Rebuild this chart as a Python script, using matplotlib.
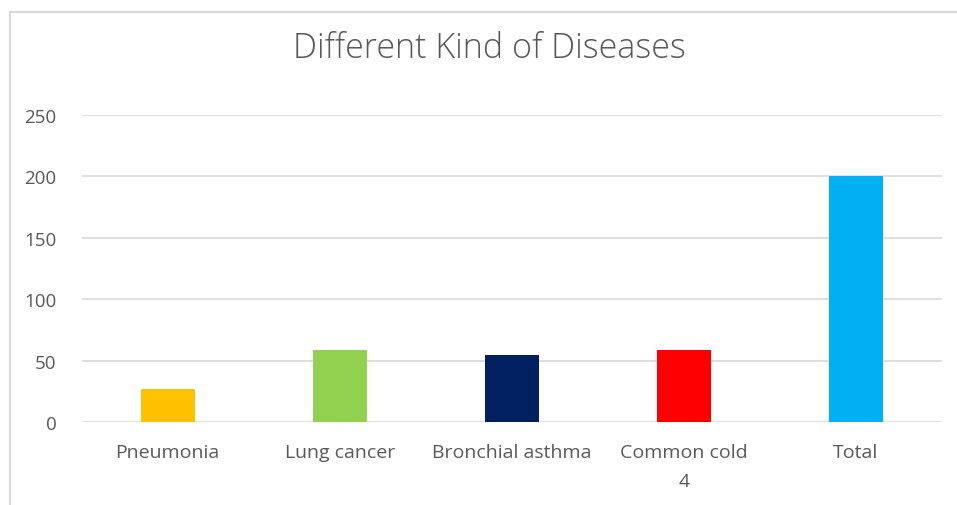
import matplotlib
matplotlib.use("Agg")
import matplotlib.pyplot as plt
from matplotlib.lines import Line2D
import numpy as np

categories = ["Pneumonia", "Lung cancer", "Bronchial asthma", "Common cold\n4", "Total"]
values = [27, 59, 55, 59, 200]
colors = ["#FFC000", "#92D050", "#002060", "#FF0000", "#00B0F0"]
yticks = [0, 50, 100, 150, 200, 250]

plt.rcParams["font.family"] = ["Open Sans", "DejaVu Sans"]
text_color = "#595959"

W, H = 957, 506
fig = plt.figure(figsize=(W / 100, H / 100), dpi=100)
fig.patch.set_facecolor("white")

left, right = 81.7, 941.7
zero_y, top_y = 423.3, 116
ax = fig.add_axes([left / W, (H - zero_y) / H, (right - left) / W, (zero_y - top_y) / H])

x = np.arange(len(categories))
ax.bar(x, values, width=0.314, color=colors, zorder=3)
ax.set_xlim(-0.5, len(categories) - 0.5)
ax.set_ylim(0, 250)
ax.set_yticks(yticks)
ax.set_yticklabels([str(t) for t in yticks])
ax.set_xticks(x)
ax.set_xticklabels(categories, linespacing=1.75)
ax.yaxis.grid(True, color="#D9D9D9", linewidth=1.2, zorder=0)
for s in ax.spines.values():
    s.set_visible(False)
ax.tick_params(axis="y", length=0, colors=text_color, labelsize=13.5, pad=18)
ax.tick_params(axis="x", length=0, colors=text_color, labelsize=14, pad=15)

fig.text(489 / W, 1 - 49 / H, "Different Kind of Diseases", ha="center", va="center",
         fontsize=24.5, color=text_color, fontweight="light")

# chart frame
fig.add_artist(Line2D([10 / W, 1], [1 - 13 / H, 1 - 13 / H], transform=fig.transFigure,
                      color="#D9D9D9", linewidth=1.5))
fig.add_artist(Line2D([10 / W, 10 / W], [0, 1 - 13 / H], transform=fig.transFigure,
                      color="#D9D9D9", linewidth=1.5))

fig.savefig("out.png", dpi=100, facecolor="white")
